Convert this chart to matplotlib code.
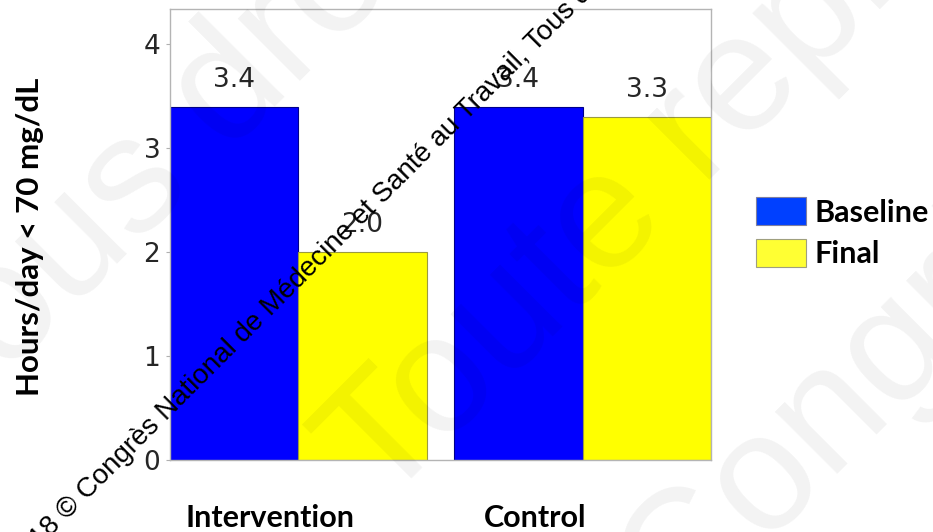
import numpy as np
import matplotlib
matplotlib.use("Agg")
import matplotlib.pyplot as plt
import matplotlib.transforms as mtransforms
from matplotlib.patches import Patch

# Data
groups = ["Intervention", "Control"]
series_names = ["Baseline", "Final"]
baseline = [3.4, 3.4]
final = [2.0, 3.3]
yticks = [0, 1, 2, 3, 4]

W, H = 933, 532
fig = plt.figure(figsize=(W / 100, H / 100), dpi=100)
fig.patch.set_facecolor("white")

ax = fig.add_axes([170 / W, 1 - 460 / H, 541 / W, 451 / H])

x = np.arange(len(groups))
w = 0.4517
b1 = ax.bar(x - w / 2, baseline, w, color="#0000ff", edgecolor="#00008a", linewidth=0.8)
b2 = ax.bar(x + w / 2, final, w, color="#ffff00", edgecolor="#9a9a40", linewidth=0.8)

for bars, vals in ((b1, baseline), (b2, final)):
    ax.bar_label(bars, labels=[f"{v:.1f}" for v in vals], padding=10,
                 fontsize=19, color="#262626", family="DejaVu Sans")

ax.set_xlim(-w, 1 + w)
ax.set_ylim(0, 4.34)
ax.set_yticks(yticks)
ax.set_yticklabels([str(t) for t in yticks], fontsize=19, color="#262626",
                   family="DejaVu Sans")
ax.tick_params(axis="y", length=3, width=0.8, color="#b0b0b0", pad=4)

ax.set_xticks(x)
ax.set_xticklabels(groups, fontsize=22, fontweight="bold", family="Lato")
ax.tick_params(axis="x", length=0, pad=32)
shifts = [-28, -47]
for lab, dx in zip(ax.get_xticklabels(), shifts):
    lab.set_transform(lab.get_transform() +
                      mtransforms.ScaledTranslation(dx / 100, 0, fig.dpi_scale_trans))

for s in ax.spines.values():
    s.set_color("#b4b4b4")
    s.set_linewidth(1.0)

fig.text(30 / W, 1 - 237 / H, "Hours/day < 70 mg/dL", rotation=90,
         ha="center", va="center", fontsize=22.5, fontweight="bold", family="Lato")

leg_handles = [Patch(facecolor="#0040ff", edgecolor="#7f7f9f", linewidth=0.8),
               Patch(facecolor="#ffff33", edgecolor="#9f9f7f", linewidth=0.8)]
fig.legend(leg_handles, series_names, loc="upper left",
           bbox_to_anchor=(756 / W, 1 - 197 / H), frameon=False,
           prop={"family": "Lato", "weight": "bold", "size": 22},
           handlelength=1.65, handleheight=1.05, handletextpad=0.25,
           labelspacing=0.4, borderpad=0, borderaxespad=0)

# Copyright overlays
big = dict(rotation=45, rotation_mode="anchor", ha="left", va="baseline",
           fontsize=120, family="Liberation Sans", color="black", alpha=0.05,
           zorder=20)
fig.text(-54 / W, 1 - 436 / H, "Tous droits réservés", **big)
fig.text(381 / W, 1 - 508 / H, "Toute reproduction interdite", **big)
fig.text(679 / W, 1 - 632 / H, "Congrès National de Médecine et Santé au Travail", **big)

fig.text(18 / W, 1 - 570 / H,
         "2018 © Congrès National de Médecine et Santé au Travail, Tous droits réservés",
         rotation=45, rotation_mode="anchor", ha="left", va="baseline",
         fontsize=20, family="Liberation Sans", color="black", zorder=21)

fig.savefig("out.png", dpi=100, facecolor="white")
